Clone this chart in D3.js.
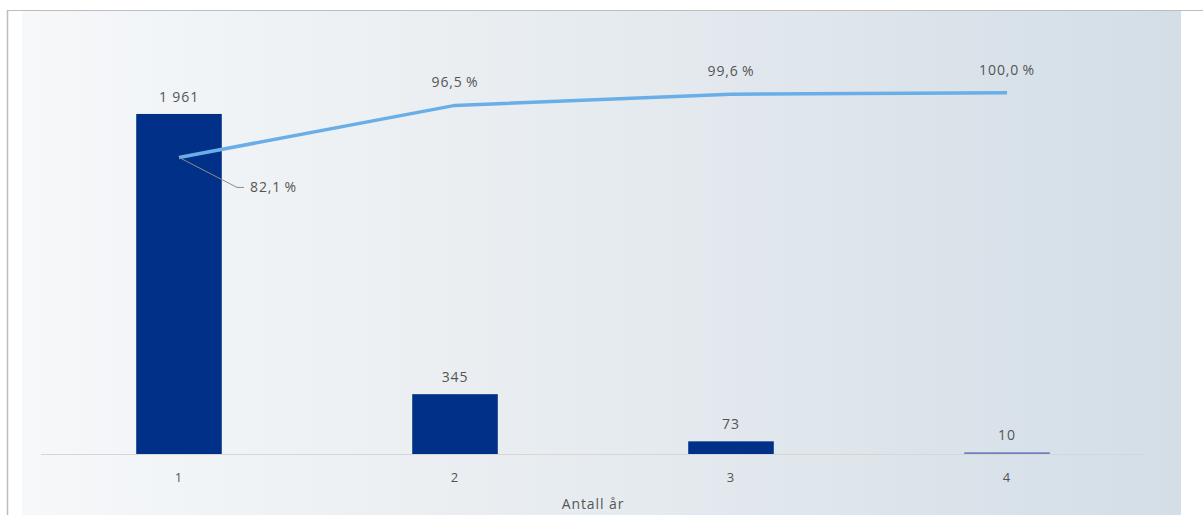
<!DOCTYPE html>
<html>
<head>
<meta charset="utf-8">
<script src="https://cdn.jsdelivr.net/npm/d3@7"></script>
<style>
  body { margin: 0; background: #fff; }
  svg text { font-family: "Open Sans", sans-serif; fill: #555; letter-spacing: 0.9px; }
</style>
</head>
<body>
<div id="chart"></div>
<script>
// data
var categories = ["1", "2", "3", "4"];
var counts = [1961, 345, 73, 10];
var cumulative = [0.821, 0.965, 0.996, 1.0];
var xTitle = "Antall år";

var W = 1203, H = 515;
var svg = d3.select("#chart").append("svg").attr("width", W).attr("height", H);

// background gradient panel
var defs = svg.append("defs");
var grad = defs.append("linearGradient").attr("id", "bg").attr("x1", "0").attr("x2", "1").attr("y1", "0").attr("y2", "0");
grad.append("stop").attr("offset", "0").attr("stop-color", "#f6f8fa");
grad.append("stop").attr("offset", "0.5").attr("stop-color", "#e6ebef");
grad.append("stop").attr("offset", "1").attr("stop-color", "#d3dee7");

svg.append("rect").attr("x", 22).attr("y", 11).attr("width", 1159).attr("height", H - 11).attr("fill", "url(#bg)");

// frame lines
svg.append("line").attr("x1", 7).attr("x2", W).attr("y1", 10.5).attr("y2", 10.5).attr("stroke", "#bdbdbd").attr("stroke-width", 1);
svg.append("line").attr("x1", 7.5).attr("x2", 7.5).attr("y1", 10).attr("y2", H).attr("stroke", "#bdbdbd").attr("stroke-width", 1.5);

// scales
var x = d3.scaleBand().domain(categories).range([41, 1145]).paddingInner(0.69).paddingOuter(0.345);
var y = d3.scaleLinear().domain([0, 2500]).range([454, 20.5]);
var y2 = d3.scaleLinear().domain([0, 1.2]).range([454, 20.5]);

var fmtInt = function (v) { return d3.format(",")(v).replace(/,/g, " "); };
var fmtPct = function (v) { return d3.format(".1f")(v * 100).replace(".", ",") + "\u2009%"; };

// bars
svg.append("g").selectAll("rect").data(counts).join("rect")
  .attr("x", (d, i) => x(categories[i]))
  .attr("y", d => y(d))
  .attr("width", x.bandwidth())
  .attr("height", d => Math.max(y(0) - y(d), 1.5))
  .attr("fill", (d, i) => i === 3 ? "#6f80c0" : "#003087");

// axis line
svg.append("line").attr("x1", 41).attr("x2", 1145).attr("y1", 454.5).attr("y2", 454.5).attr("stroke", "#d6d6d6").attr("stroke-width", 1);

// x tick labels
svg.append("g").selectAll("text").data(categories).join("text")
  .attr("x", d => x(d) + x.bandwidth() / 2)
  .attr("y", 482)
  .attr("text-anchor", "middle")
  .style("font-size", "13px")
  .text(d => d);

svg.append("text").attr("x", 593).attr("y", 509).attr("text-anchor", "middle").style("font-size", "14px").text(xTitle);

// bar labels
svg.append("g").selectAll("text").data(counts).join("text")
  .attr("x", (d, i) => x(categories[i]) + x.bandwidth() / 2)
  .attr("y", d => y(d) - 12)
  .attr("text-anchor", "middle")
  .style("font-size", "14px")
  .text(d => fmtInt(d));

// cumulative line
var cx = (d, i) => x(categories[i]) + x.bandwidth() / 2;
svg.append("path").datum(cumulative)
  .attr("d", d3.line().x(cx).y(d => y2(d)))
  .attr("fill", "none").attr("stroke", "#6aaee8").attr("stroke-width", 3.5);

// leader line for first label
var p0x = cx(cumulative[0], 0), p0y = y2(cumulative[0]);
svg.append("path")
  .attr("d", `M${p0x},${p0y}L${p0x + 58},${p0y + 30}L${p0x + 65},${p0y + 30}`)
  .attr("fill", "none").attr("stroke", "#8c8c8c").attr("stroke-width", 1);

svg.append("g").selectAll("text").data(cumulative).join("text")
  .attr("x", (d, i) => i === 0 ? p0x + 71 : cx(d, i))
  .attr("y", (d, i) => i === 0 ? p0y + 35 : y2(d) - 18)
  .attr("text-anchor", (d, i) => i === 0 ? "start" : "middle")
  .style("font-size", "14px")
  .text(d => fmtPct(d));
</script>
</body>
</html>
